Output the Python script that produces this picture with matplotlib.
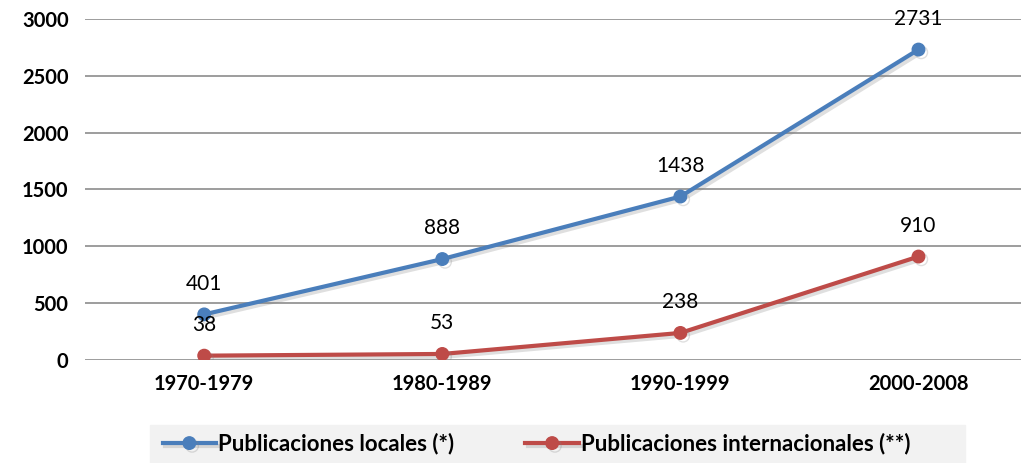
import numpy as np
import matplotlib.pyplot as plt
import matplotlib.patheffects as pe
from matplotlib.patches import Rectangle

periods = ['1970-1979', '1980-1989', '1990-1999', '2000-2008']
locales = [401, 888, 1438, 2731]
internacionales = [38, 53, 238, 910]

plt.rcParams['font.family'] = ['Lato', 'DejaVu Sans']

fig = plt.figure(figsize=(10.26, 4.63), dpi=100)
ax = fig.add_axes([0.083, 0.2225, 0.912, 0.7365])

x = np.arange(len(periods))
shadow = [pe.SimpleLineShadow(offset=(2, -2), alpha=0.25, shadow_color='gray'), pe.Normal()]

ax.plot(x, locales, color='#4a7ebb', lw=3, marker='o', ms=9,
        label='Publicaciones locales (*)', path_effects=shadow, zorder=3)
ax.plot(x, internacionales, color='#be4b48', lw=3, marker='o', ms=9,
        label='Publicaciones internacionales (**)', path_effects=shadow, zorder=3)

# data labels
for xi, v in zip(x, locales):
    ax.annotate(str(v), (xi, v), xytext=(0, 15), textcoords='offset points',
                ha='center', va='bottom', fontsize=15)
for xi, v in zip(x, internacionales):
    ax.annotate(str(v), (xi, v), xytext=(0, 15), textcoords='offset points',
                ha='center', va='bottom', fontsize=15)

ax.set_xlim(-0.5, 3.43)
ax.set_ylim(0, 3000)
ax.set_yticks(np.arange(0, 3001, 500))
ax.set_xticks(x)
ax.set_xticklabels(periods, fontsize=14.5, fontweight='bold')
for t in ax.get_yticklabels():
    t.set_fontsize(14.5)
    t.set_fontweight('bold')

# grid lines
ax.grid(axis='y', color='#8c8c8c', lw=1.2)
ax.set_axisbelow(True)
for s in ax.spines.values():
    s.set_visible(False)
ax.tick_params(length=0, pad=12)
ax.tick_params(axis='x', pad=10)

# legend on gray band
fig.patches.append(Rectangle((150 / 1026, 0), 815 / 1026, 38 / 463,
                             transform=fig.transFigure, color='#f2f2f2', zorder=0))
leg = fig.legend(loc='center', bbox_to_anchor=(0.523, 19 / 463), ncol=2,
                 frameon=False, prop={'weight': 'bold', 'size': 16},
                 handlelength=2.4, handletextpad=0.1, columnspacing=3.2)

fig.savefig('out.png', dpi=100)
